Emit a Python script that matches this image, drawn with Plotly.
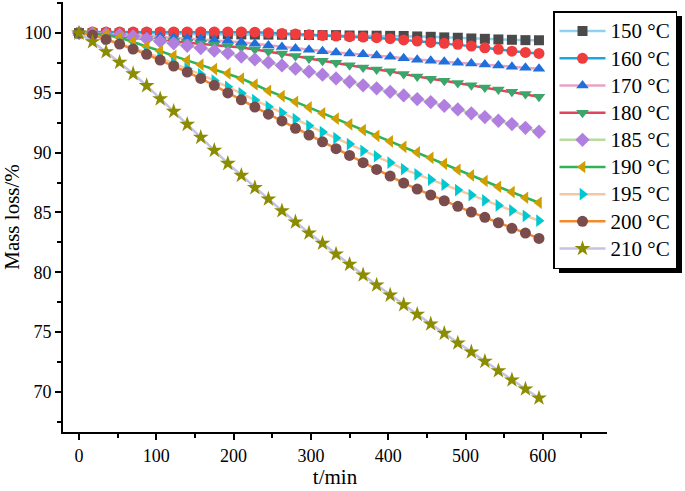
import plotly.graph_objects as go

time_min = [0, 17.5, 35, 52.5, 70, 87.5, 105, 122.5, 140, 157.5, 175, 192.5, 210, 227.5,
            245, 262.5, 280, 297.5, 315, 332.5, 350, 367.5, 385, 402.5, 420, 437.5, 455,
            472.5, 490, 507.5, 525, 542.5, 560, 577.5, 595]

labels = ["150 °C", "160 °C", "170 °C", "180 °C", "185 °C", "190 °C", "195 °C", "200 °C", "210 °C"]

m150 = [100, 100, 99.99, 99.98, 99.97, 99.96, 99.95, 99.94, 99.93, 99.92, 99.91, 99.9, 99.89,
        99.88, 99.87, 99.86, 99.85, 99.84, 99.83, 99.83, 99.8, 99.79, 99.78, 99.77, 99.76,
        99.72, 99.69, 99.64, 99.61, 99.55, 99.52, 99.47, 99.44, 99.41, 99.40]
m160 = [100, 100.1, 100.1, 100.1, 100.1, 100.1, 100.1, 100.1, 100.1, 100.1, 100.1, 100.1,
        100.1, 100.08, 100.02, 99.97, 99.92, 99.86, 99.8, 99.75, 99.7, 99.67, 99.62, 99.53,
        99.43, 99.33, 99.22, 99.14, 99.06, 98.91, 98.77, 98.64, 98.49, 98.38, 98.3]
m170 = [100, 99.97, 99.93, 99.88, 99.82, 99.76, 99.69, 99.61, 99.55, 99.5, 99.43, 99.36,
        99.24, 99.1, 98.97, 98.84, 98.72, 98.6, 98.49, 98.38, 98.3, 98.22, 98.12, 98.02,
        97.9, 97.78, 97.69, 97.6, 97.53, 97.45, 97.37, 97.29, 97.18, 97.1, 97.02]
m180 = [100, 99.9, 99.8, 99.7, 99.6, 99.5, 99.41, 99.33, 99.25, 99.14, 99.05, 98.93, 98.8,
        98.63, 98.46, 98.3, 98.08, 97.88, 97.68, 97.52, 97.32, 97.13, 96.96, 96.8, 96.57,
        96.36, 96.18, 96.01, 95.82, 95.63, 95.46, 95.29, 95.09, 94.9, 94.67]
m185 = [100, 99.97, 99.91, 99.84, 99.72, 99.52, 99.31, 99.14, 98.94, 98.75, 98.53, 98.33,
        98.04, 97.8, 97.55, 97.3, 97.02, 96.77, 96.52, 96.21, 95.93, 95.63, 95.38, 95.09,
        94.79, 94.48, 94.23, 93.92, 93.62, 93.29, 92.98, 92.67, 92.39, 92.08, 91.75]
m190 = [100, 99.96, 99.86, 99.63, 99.27, 98.88, 98.5, 98.1, 97.73, 97.36, 96.99, 96.63,
        96.2, 95.7, 95.18, 94.73, 94.26, 93.79, 93.29, 92.84, 92.37, 91.89, 91.41, 90.95,
        90.49, 90.02, 89.57, 89.07, 88.57, 88.1, 87.63, 87.15, 86.71, 86.23, 85.81]
m195 = [100, 99.85, 99.52, 99.15, 98.77, 98.36, 97.93, 97.48, 97.02, 96.54, 96.03, 95.51,
        94.96, 94.4, 93.84, 93.34, 92.81, 92.25, 91.72, 91.22, 90.72, 90.16, 89.7, 89.16,
        88.63, 88.19, 87.74, 87.32, 86.87, 86.45, 86.01, 85.59, 85.17, 84.72, 84.31]
m200 = [100, 99.83, 99.47, 99.08, 98.66, 98.22, 97.74, 97.24, 96.74, 96.21, 95.63, 95.0,
        94.42, 93.81, 93.22, 92.65, 92.04, 91.47, 90.91, 90.33, 89.77, 89.16, 88.6, 88.04,
        87.46, 86.96, 86.46, 85.98, 85.51, 85.03, 84.59, 84.14, 83.67, 83.28, 82.83]
m210 = [100, 99.27, 98.44, 97.55, 96.6, 95.6, 94.5, 93.45, 92.37, 91.28, 90.19, 89.1, 88.1,
        87.07, 86.12, 85.14, 84.2, 83.28, 82.42, 81.52, 80.66, 79.77, 78.93, 78.09, 77.28,
        76.48, 75.67, 74.89, 74.08, 73.33, 72.55, 71.76, 70.99, 70.23, 69.48]

series = [m150, m160, m170, m180, m185, m190, m195, m200, m210]
line_colors = ["#8ed1f0", "#1aa7e0", "#e8a3c4", "#e0455a", "#b9dba0", "#2eb35a",
               "#f3c9a4", "#f28b30", "#c3c3e3"]
marker_colors = ["#4a4a4a", "#f03c3c", "#1f6fdc", "#3aa66a", "#b07fe0", "#d19e00",
                 "#00c8d0", "#7a4c4c", "#8c8c00"]
symbols = ["square", "circle", "triangle-up", "triangle-down", "diamond", "triangle-left",
           "triangle-right", "circle", "star"]
sizes = [10, 11, 11, 11, 11, 11, 11, 11, 12]

FONT = "Liberation Serif"

fig = go.Figure()
for lab, ys, lc, mc, sym, sz in zip(labels, series, line_colors, marker_colors, symbols, sizes):
    fig.add_trace(go.Scatter(
        x=time_min, y=ys, mode="lines+markers",
        name="<span style='font-size:21px'>" + lab + "</span>",
        line=dict(color=lc, width=2.5),
        marker=dict(symbol=sym, color=mc, size=sz, line=dict(width=0)),
    ))

# plot area in pixels: x 63..607, y 2..432
PW, PH = 544.0, 430.0
def px_x(p):
    return (p - 63) / PW
def px_y(p):
    return (432 - p) / PH

# legend drop shadow
fig.add_shape(type="rect", xref="paper", yref="paper",
              x0=px_x(559), x1=px_x(682), y0=px_y(273), y1=px_y(16),
              fillcolor="black", line=dict(width=0), layer="above")

axis_common = dict(
    showline=True, linecolor="black", linewidth=1.8, mirror=False,
    ticks="outside", ticklen=6, tickwidth=1.8, tickcolor="black",
    showgrid=False, zeroline=False, automargin=False,
    tickfont=dict(family=FONT, size=18, color="black"),
)

fig.update_layout(
    width=685, height=491,
    margin=dict(l=63, r=78, t=2, b=59, autoexpand=False),
    paper_bgcolor="white", plot_bgcolor="white",
    font=dict(family=FONT, color="black"),
    showlegend=True,
    legend=dict(
        x=px_x(553), y=px_y(11), xanchor="left", yanchor="top",
        bgcolor="white", bordercolor="black", borderwidth=1.5,
        font=dict(family=FONT, size=18.6, color="black"),
        tracegroupgap=0, itemwidth=46,
    ),
    xaxis=dict(
        range=[-20.7, 683],
        tickmode="array", tickvals=[0, 100, 200, 300, 400, 500, 600],
        minor=dict(tickmode="array", tickvals=[50, 150, 250, 350, 450, 550, 650],
                   ticks="outside", ticklen=4, tickwidth=1.8, tickcolor="black"),
        title=dict(text="t/min", font=dict(family=FONT, size=21, color="black"), standoff=4),
        **axis_common,
    ),
    yaxis=dict(
        range=[66.64, 102.6],
        tickmode="array", tickvals=[70, 75, 80, 85, 90, 95, 100],
        minor=dict(tickmode="array",
                   tickvals=[67.5, 72.5, 77.5, 82.5, 87.5, 92.5, 97.5, 102.5],
                   ticks="outside", ticklen=4, tickwidth=1.8, tickcolor="black"),
        title=dict(text="Mass loss/%", font=dict(family=FONT, size=21, color="black"), standoff=8),
        **axis_common,
    ),
)

fig.write_html("out.html", config={"displayModeBar": False},
               post_script="document.body.style.margin='0';")
